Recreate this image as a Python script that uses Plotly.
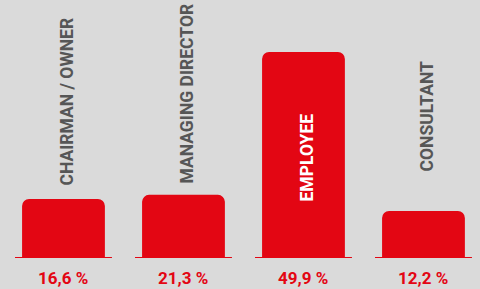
import plotly.graph_objects as go

# ---- data ----
categories = ["CHAIRMAN / OWNER", "MANAGING DIRECTOR", "EMPLOYEE", "CONSULTANT"]
shares = [16.6, 21.3, 49.9, 12.2]            # labelled percentages
share_labels = ["16,6 %", "21,3 %", "49,9 %", "12,2 %"]
# bar heights as drawn in the reference (not strictly proportional to the labels)
bar_heights = [14.3, 15.3, 49.9, 11.4]

# ---- styles ----
RED = "#e30613"
GREY_TXT = "#565656"
BG = "#dadada"
FONT = "Roboto"

label_shift_px = [71, 73, 55, 85]      # bottom of rotated label above baseline
label_colors = [GREY_TXT, GREY_TXT, "white", GREY_TXT]

x_idx = list(range(len(categories)))

fig = go.Figure(go.Bar(
    x=x_idx, y=bar_heights, width=0.69,
    marker=dict(color=RED, line=dict(width=0)),
    hoverinfo="skip",
))

for i, cat in enumerate(categories):
    fig.add_annotation(
        x=i, y=0, xref="x", yref="paper", text=cat, textangle=-90,
        showarrow=False, yanchor="bottom", xanchor="center",
        yshift=label_shift_px[i], xshift=4,
        font=dict(family=FONT, size=17.5, color=label_colors[i], weight=700),
    )
    fig.add_annotation(
        x=i, y=0, xref="x", yref="paper", text=share_labels[i],
        showarrow=False, yanchor="middle", xanchor="center", yshift=-20,
        font=dict(family=FONT, size=17, color=RED, weight=700),
    )
    fig.add_shape(type="line", xref="x", yref="y",
                  x0=i - 0.404, x1=i + 0.404, y0=0, y1=0,
                  line=dict(color=RED, width=2))

fig.update_layout(
    width=480, height=289,
    margin=dict(l=0, r=0, t=0, b=31),
    paper_bgcolor=BG, plot_bgcolor=BG,
    barcornerradius=7,
    showlegend=False,
    xaxis=dict(range=[-0.529, 3.471], visible=False, fixedrange=True),
    yaxis=dict(range=[0, 62.5], visible=False, fixedrange=True),
)

fig.write_html(
    "out.html",
    config={"displayModeBar": False},
    post_script="document.body.style.margin='0';document.body.style.background='#dadada';",
)
